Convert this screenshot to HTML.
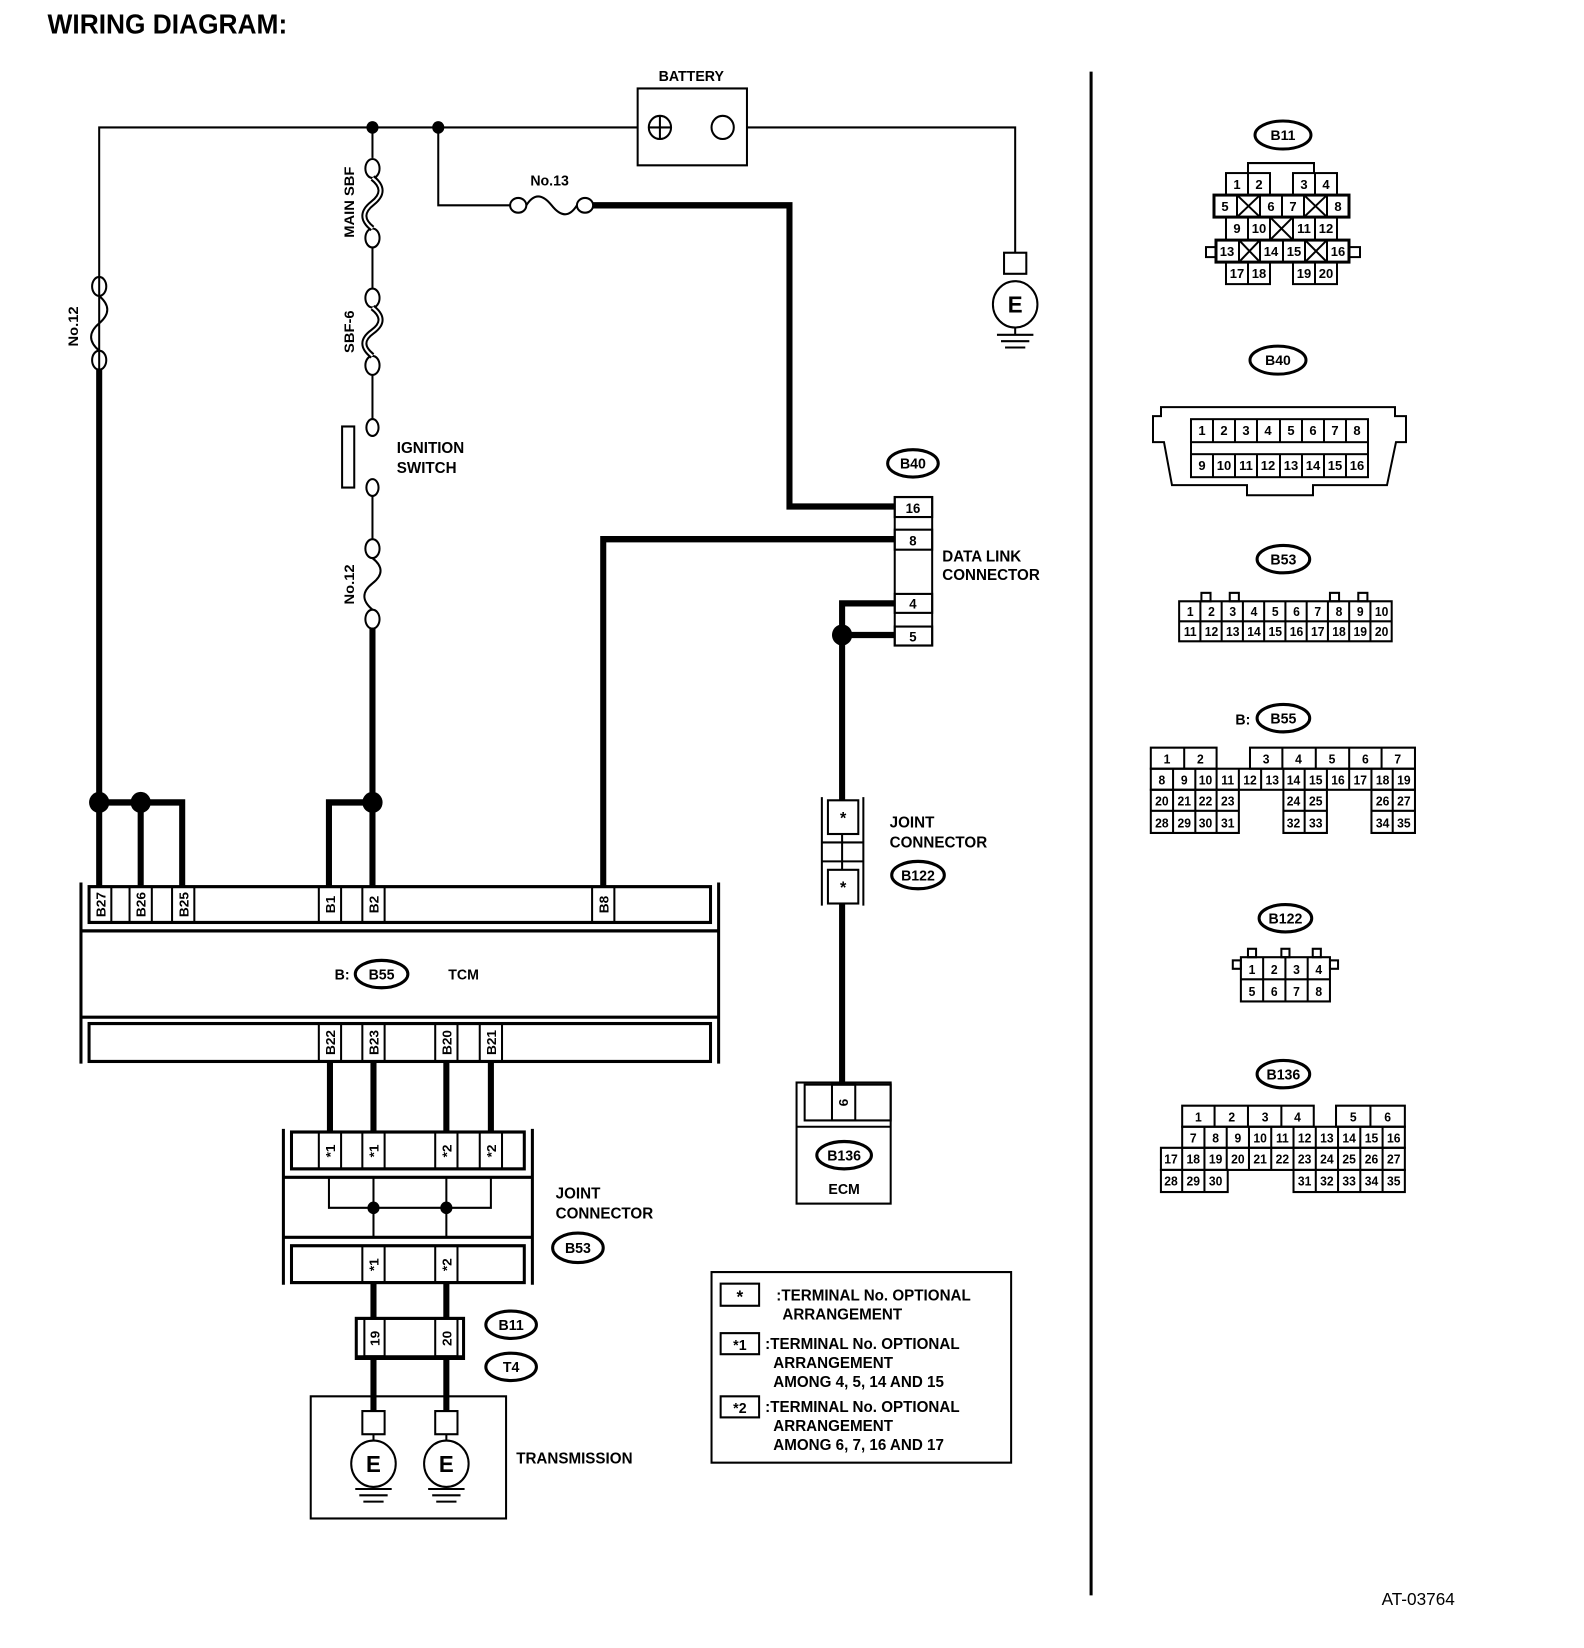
<!DOCTYPE html>
<html><head><meta charset="utf-8"><style>
html,body{margin:0;padding:0;background:#fff}
svg{display:block}
text{font-family:"Liberation Sans",Arial,sans-serif;font-weight:bold;fill:#000}
</style></head><body>
<svg width="1584" height="1648" viewBox="0 0 1565 1565" preserveAspectRatio="none" xmlns="http://www.w3.org/2000/svg">
<g fill="none" stroke="#000" stroke-width="2">
<polyline points="98,350 98,121 630,121"/>
<polyline points="738,121 1003,121 1003,240"/>
<rect x="630" y="84" width="108" height="73"/>
<circle cx="652" cy="121" r="11"/><line x1="641" y1="121" x2="663" y2="121"/><line x1="652" y1="110" x2="652" y2="132"/>
<circle cx="714" cy="121" r="11"/>
<rect x="992" y="240" width="22" height="20"/>
<circle cx="1003" cy="289" r="22"/>
<line x1="1003" y1="311" x2="1003" y2="318"/>
<line x1="985" y1="318" x2="1021" y2="318"/><line x1="989" y1="324" x2="1017" y2="324"/><line x1="993" y1="330" x2="1013" y2="330"/>
<ellipse cx="98" cy="272" rx="7" ry="9"/><ellipse cx="98" cy="342" rx="7" ry="9"/>
<path d="M98,281 Q114,294 98,307 Q82,320 98,333"/>
<line x1="368" y1="121" x2="368" y2="150"/>
<ellipse cx="368" cy="160" rx="7" ry="9"/><ellipse cx="368" cy="226" rx="7" ry="9"/>
<path d="M368,169 Q384,181 368,193 Q352,205 368,217" stroke-width="6"/>
<path d="M368,169 Q384,181 368,193 Q352,205 368,217" stroke="#fff" stroke-width="2"/>
<line x1="368" y1="235" x2="368" y2="274"/>
<ellipse cx="368" cy="283" rx="7" ry="9"/><ellipse cx="368" cy="347" rx="7" ry="9"/>
<path d="M368,292 Q384,304 368,315 Q352,326 368,338" stroke-width="6"/>
<path d="M368,292 Q384,304 368,315 Q352,326 368,338" stroke="#fff" stroke-width="2"/>
<line x1="368" y1="356" x2="368" y2="398"/>
<ellipse cx="368" cy="406" rx="6" ry="8"/>
<rect x="338" y="405" width="12" height="58"/>
<ellipse cx="368" cy="463" rx="6" ry="8"/>
<line x1="368" y1="471" x2="368" y2="512"/>
<ellipse cx="368" cy="521" rx="7" ry="9"/><ellipse cx="368" cy="588" rx="7" ry="9"/>
<path d="M368,530 Q384,542 368,554 Q352,566 368,579"/>
<polyline points="433,121 433,195 504,195"/>
<ellipse cx="512" cy="195" rx="8" ry="7"/><ellipse cx="578" cy="195" rx="8" ry="7"/>
<path d="M520,195 Q531,178 545,195 Q559,212 570,195"/>
<rect x="884" y="472" width="37" height="141"/>
<rect x="884" y="472" width="37" height="19"/>
<rect x="884" y="503" width="37" height="19"/>
<rect x="884" y="564" width="37" height="18"/>
<rect x="884" y="595" width="37" height="18"/>
<rect x="818" y="760" width="30" height="32"/>
<rect x="818" y="826" width="30" height="32"/>
<polyline points="812,757 812,860"/><polyline points="853,757 853,860"/>
<line x1="812" y1="800" x2="853" y2="800"/><line x1="812" y1="818" x2="853" y2="818"/>
<line x1="832" y1="792" x2="832" y2="826"/>
<rect x="787" y="1028" width="93" height="115"/>
<rect x="795" y="1030" width="85" height="34"/>
<rect x="822" y="1030" width="23" height="34"/>
<line x1="787" y1="1070" x2="880" y2="1070"/>
<line x1="80" y1="838" x2="80" y2="1010" stroke-width="3"/>
<line x1="710" y1="838" x2="710" y2="1010" stroke-width="3"/>
<rect x="88" y="842" width="614" height="34" stroke-width="3"/>
<line x1="80" y1="884" x2="710" y2="884" stroke-width="3"/>
<line x1="80" y1="966" x2="710" y2="966" stroke-width="3"/>
<rect x="88" y="972" width="614" height="36" stroke-width="3"/>
<rect x="88" y="842" width="22" height="34"/><rect x="128" y="842" width="22" height="34"/><rect x="170" y="842" width="22" height="34"/>
<rect x="315" y="842" width="22" height="34"/><rect x="358" y="842" width="22" height="34"/><rect x="585" y="842" width="22" height="34"/>
<rect x="315" y="972" width="22" height="36"/><rect x="358" y="972" width="22" height="36"/><rect x="430" y="972" width="22" height="36"/><rect x="474" y="972" width="22" height="36"/>
<line x1="280" y1="1072" x2="280" y2="1220" stroke-width="3"/>
<line x1="526" y1="1072" x2="526" y2="1220" stroke-width="3"/>
<rect x="288" y="1075" width="230" height="35" stroke-width="3"/>
<line x1="280" y1="1118" x2="526" y2="1118" stroke-width="3"/>
<line x1="280" y1="1175" x2="526" y2="1175" stroke-width="3"/>
<rect x="288" y="1183" width="230" height="35" stroke-width="3"/>
<rect x="315" y="1075" width="22" height="35"/><rect x="358" y="1075" width="22" height="35"/><rect x="430" y="1075" width="22" height="35"/><rect x="474" y="1075" width="22" height="35"/>
<rect x="358" y="1183" width="22" height="35"/><rect x="430" y="1183" width="22" height="35"/>
<polyline points="325,1118 325,1147 485,1147 485,1118"/>
<line x1="369" y1="1118" x2="369" y2="1175"/><line x1="441" y1="1118" x2="441" y2="1175"/>
<rect x="352" y="1252" width="106" height="38" stroke-width="3"/>
<rect x="360" y="1252" width="20" height="36"/><rect x="430" y="1252" width="22" height="36"/>
<line x1="352" y1="1288" x2="458" y2="1288"/>
<rect x="307" y="1326" width="193" height="116"/>
<rect x="358" y="1340" width="22" height="22"/><circle cx="369" cy="1390" r="22"/>
<line x1="369" y1="1362" x2="369" y2="1368"/>
<line x1="369" y1="1412" x2="369" y2="1414"/>
<line x1="351" y1="1414" x2="387" y2="1414"/><line x1="355" y1="1420" x2="383" y2="1420"/><line x1="359" y1="1426" x2="379" y2="1426"/>
<rect x="430" y="1340" width="22" height="22"/><circle cx="441" cy="1390" r="22"/>
<line x1="441" y1="1362" x2="441" y2="1368"/>
<line x1="423" y1="1414" x2="459" y2="1414"/><line x1="427" y1="1420" x2="455" y2="1420"/><line x1="431" y1="1426" x2="451" y2="1426"/>
<rect x="703" y="1208" width="296" height="181"/>
<rect x="712" y="1219" width="38" height="21"/>
<rect x="712" y="1266" width="38" height="20"/>
<rect x="712" y="1326" width="38" height="20"/>
<line x1="1078" y1="68" x2="1078" y2="1515" stroke-width="3"/>
<ellipse cx="902" cy="440" rx="25" ry="13" stroke-width="3"/>
<ellipse cx="907" cy="831" rx="26" ry="13" stroke-width="3"/>
<ellipse cx="834" cy="1097" rx="27" ry="13" stroke-width="3"/>
<ellipse cx="377" cy="925" rx="26" ry="13" stroke-width="3"/>
<ellipse cx="571" cy="1185" rx="25" ry="14" stroke-width="3"/>
<ellipse cx="505" cy="1258" rx="25" ry="13" stroke-width="3"/>
<ellipse cx="505" cy="1298" rx="25" ry="13" stroke-width="3"/>
</g>
<g fill="none" stroke="#000" stroke-width="6">
<line x1="98" y1="350" x2="98" y2="842"/>
<polyline points="98,762 180,762 180,842"/>
<line x1="139" y1="762" x2="139" y2="842"/>
<line x1="368" y1="596" x2="368" y2="842"/>
<polyline points="368,762 325,762 325,842"/>
<polyline points="586,195 780,195 780,481 884,481"/>
<polyline points="884,512 596,512 596,842"/>
<polyline points="884,573 832,573 832,760"/>
<line x1="832" y1="603" x2="884" y2="603"/>
<line x1="832" y1="858" x2="832" y2="1030"/>
<line x1="326" y1="1008" x2="326" y2="1075"/><line x1="369" y1="1008" x2="369" y2="1075"/>
<line x1="441" y1="1008" x2="441" y2="1075"/><line x1="485" y1="1008" x2="485" y2="1075"/>
<line x1="369" y1="1218" x2="369" y2="1252"/><line x1="441" y1="1218" x2="441" y2="1252"/>
<line x1="369" y1="1290" x2="369" y2="1340"/><line x1="441" y1="1290" x2="441" y2="1340"/>
</g>
<g fill="#000">
<circle cx="368" cy="121" r="6"/><circle cx="433" cy="121" r="6"/>
<circle cx="98" cy="762" r="10"/><circle cx="139" cy="762" r="10"/><circle cx="368" cy="762" r="10"/>
<circle cx="832" cy="603" r="10"/>
<circle cx="369" cy="1147" r="6"/><circle cx="441" cy="1147" r="6"/>
</g>
<text x="47" y="32" font-size="26">WIRING DIAGRAM:</text>
<text x="683" y="77" font-size="14" text-anchor="middle">BATTERY</text>
<text x="1003" y="297" font-size="22" text-anchor="middle">E</text>
<text x="369" y="1398" font-size="22" text-anchor="middle">E</text>
<text x="441" y="1398" font-size="22" text-anchor="middle">E</text>
<text x="543" y="176" font-size="14" text-anchor="middle">No.13</text>
<text transform="translate(77,310) rotate(-90)" font-size="14" text-anchor="middle">No.12</text>
<text transform="translate(350,192) rotate(-90)" font-size="14" text-anchor="middle">MAIN SBF</text>
<text transform="translate(350,315) rotate(-90)" font-size="14" text-anchor="middle">SBF-6</text>
<text transform="translate(350,555) rotate(-90)" font-size="14" text-anchor="middle">No.12</text>
<text x="392" y="430" font-size="15">IGNITION</text>
<text x="392" y="449" font-size="15">SWITCH</text>
<text x="902" y="445" font-size="14" text-anchor="middle">B40</text>
<text x="902" y="487" font-size="13" text-anchor="middle">16</text>
<text x="902" y="518" font-size="13" text-anchor="middle">8</text>
<text x="902" y="578" font-size="13" text-anchor="middle">4</text>
<text x="902" y="609" font-size="13" text-anchor="middle">5</text>
<text x="931" y="533" font-size="15">DATA LINK</text>
<text x="931" y="551" font-size="15">CONNECTOR</text>
<text x="879" y="786" font-size="15">JOINT</text>
<text x="879" y="805" font-size="15">CONNECTOR</text>
<text x="907" y="836" font-size="14" text-anchor="middle">B122</text>
<text x="833" y="782" font-size="16" text-anchor="middle">*</text>
<text x="833" y="848" font-size="16" text-anchor="middle">*</text>
<text transform="translate(838,1047) rotate(-90)" font-size="13" text-anchor="middle">6</text>
<text x="834" y="1102" font-size="14" text-anchor="middle">B136</text>
<text x="834" y="1134" font-size="14" text-anchor="middle">ECM</text>
<g font-size="13" text-anchor="middle">
<text transform="translate(104,859) rotate(-90)">B27</text>
<text transform="translate(144,859) rotate(-90)">B26</text>
<text transform="translate(186,859) rotate(-90)">B25</text>
<text transform="translate(331,859) rotate(-90)">B1</text>
<text transform="translate(374,859) rotate(-90)">B2</text>
<text transform="translate(601,859) rotate(-90)">B8</text>
<text transform="translate(331,990) rotate(-90)">B22</text>
<text transform="translate(374,990) rotate(-90)">B23</text>
<text transform="translate(446,990) rotate(-90)">B20</text>
<text transform="translate(490,990) rotate(-90)">B21</text>
<text transform="translate(331,1093) rotate(-90)">*1</text>
<text transform="translate(374,1093) rotate(-90)">*1</text>
<text transform="translate(446,1093) rotate(-90)">*2</text>
<text transform="translate(490,1093) rotate(-90)">*2</text>
<text transform="translate(374,1201) rotate(-90)">*1</text>
<text transform="translate(446,1201) rotate(-90)">*2</text>
<text transform="translate(375,1271) rotate(-90)">19</text>
<text transform="translate(446,1271) rotate(-90)">20</text>
</g>
<text x="338" y="930" font-size="14" text-anchor="middle">B:</text>
<text x="377" y="930" font-size="14" text-anchor="middle">B55</text>
<text x="458" y="930" font-size="14" text-anchor="middle">TCM</text>
<text x="549" y="1138" font-size="15">JOINT</text>
<text x="549" y="1157" font-size="15">CONNECTOR</text>
<text x="571" y="1190" font-size="14" text-anchor="middle">B53</text>
<text x="505" y="1263" font-size="14" text-anchor="middle">B11</text>
<text x="505" y="1303" font-size="14" text-anchor="middle">T4</text>
<text x="510" y="1390" font-size="15">TRANSMISSION</text>
<g font-size="15">
<text x="731" y="1237" text-anchor="middle" font-size="17">*</text>
<text x="767" y="1235">:TERMINAL No. OPTIONAL</text>
<text x="773" y="1253">ARRANGEMENT</text>
<text x="731" y="1282" text-anchor="middle" font-size="14">*1</text>
<text x="756" y="1281">:TERMINAL No. OPTIONAL</text>
<text x="764" y="1299">ARRANGEMENT</text>
<text x="764" y="1317">AMONG 4, 5, 14 AND 15</text>
<text x="731" y="1342" text-anchor="middle" font-size="14">*2</text>
<text x="756" y="1341">:TERMINAL No. OPTIONAL</text>
<text x="764" y="1359">ARRANGEMENT</text>
<text x="764" y="1377">AMONG 6, 7, 16  AND 17</text>
</g>
<text x="1365" y="1524" font-size="17" style="font-weight:normal">AT-03764</text>

<g transform="scale(0.988,0.950)" fill="none" stroke="#000" stroke-width="2">
<ellipse cx="1283" cy="135" rx="28" ry="14" stroke-width="3"/>
<polyline points="1248,173 1248,163 1314,163 1314,173"/>
<rect x="1226" y="173" width="44" height="22"/><line x1="1248" y1="173" x2="1248" y2="195"/>
<rect x="1293" y="173" width="44" height="22"/><line x1="1315" y1="173" x2="1315" y2="195"/>
<rect x="1214" y="195" width="135" height="22" stroke-width="3"/>
<line x1="1237" y1="195" x2="1237" y2="217"/><line x1="1260" y1="195" x2="1260" y2="217"/><line x1="1282" y1="195" x2="1282" y2="217"/><line x1="1304" y1="195" x2="1304" y2="217"/><line x1="1327" y1="195" x2="1327" y2="217"/>
<path d="M1237,195 L1260,217 M1260,195 L1237,217 M1304,195 L1327,217 M1327,195 L1304,217"/>
<rect x="1226" y="217" width="111" height="23"/>
<line x1="1248" y1="217" x2="1248" y2="240"/><line x1="1270" y1="217" x2="1270" y2="240"/><line x1="1293" y1="217" x2="1293" y2="240"/><line x1="1315" y1="217" x2="1315" y2="240"/>
<path d="M1270,217 L1293,240 M1293,217 L1270,240"/>
<rect x="1206" y="247" width="10" height="10"/><rect x="1349" y="247" width="11" height="10"/>
<rect x="1216" y="240" width="133" height="22" stroke-width="3"/>
<line x1="1239" y1="240" x2="1239" y2="262"/><line x1="1260" y1="240" x2="1260" y2="262"/><line x1="1283" y1="240" x2="1283" y2="262"/><line x1="1305" y1="240" x2="1305" y2="262"/><line x1="1327" y1="240" x2="1327" y2="262"/>
<path d="M1239,240 L1260,262 M1260,240 L1239,262 M1305,240 L1327,262 M1327,240 L1305,262"/>
<rect x="1226" y="262" width="44" height="22"/><line x1="1248" y1="262" x2="1248" y2="284"/>
<rect x="1293" y="262" width="44" height="22"/><line x1="1315" y1="262" x2="1315" y2="284"/>
<ellipse cx="1278" cy="360" rx="28" ry="14" stroke-width="3"/>
<polygon points="1161,407 1395,407 1395,416 1406,416 1406,442 1396,442 1387,485 1313,485 1313,495 1247,495 1247,485 1172,485 1164,442 1153,442 1153,416 1161,416"/>
<rect x="1191" y="419" width="177" height="23"/>
<rect x="1191" y="454" width="177" height="23"/>
<line x1="1191" y1="442" x2="1191" y2="454"/><line x1="1368" y1="442" x2="1368" y2="454"/>
<path d="M1213,419V442M1235,419V442M1257,419V442M1280,419V442M1302,419V442M1324,419V442M1346,419V442M1213,454V477M1235,454V477M1257,454V477M1280,454V477M1302,454V477M1324,454V477M1346,454V477"/>
</g>
<g transform="scale(0.988,0.950)" font-size="13" text-anchor="middle">
<text x="1283" y="140" font-size="14">B11</text>
<text x="1237" y="189">1</text><text x="1259" y="189">2</text><text x="1304" y="189">3</text><text x="1326" y="189">4</text>
<text x="1225" y="211">5</text><text x="1271" y="211">6</text><text x="1293" y="211">7</text><text x="1338" y="211">8</text>
<text x="1237" y="233">9</text><text x="1259" y="233">10</text><text x="1304" y="233">11</text><text x="1326" y="233">12</text>
<text x="1227" y="256">13</text><text x="1271" y="256">14</text><text x="1294" y="256">15</text><text x="1338" y="256">16</text>
<text x="1237" y="278">17</text><text x="1259" y="278">18</text><text x="1304" y="278">19</text><text x="1326" y="278">20</text>
<text x="1278" y="365" font-size="14">B40</text>
<text x="1202" y="435">1</text><text x="1224" y="435">2</text><text x="1246" y="435">3</text><text x="1268" y="435">4</text><text x="1291" y="435">5</text><text x="1313" y="435">6</text><text x="1335" y="435">7</text><text x="1357" y="435">8</text>
<text x="1202" y="470">9</text><text x="1224" y="470">10</text><text x="1246" y="470">11</text><text x="1268" y="470">12</text><text x="1291" y="470">13</text><text x="1313" y="470">14</text><text x="1335" y="470">15</text><text x="1357" y="470">16</text>
</g>

<g fill="none" stroke="#000" stroke-width="2">
<ellipse cx="1268" cy="531" rx="26" ry="13" stroke-width="3"/>
<rect x="1165" y="571" width="210" height="38"/>
<line x1="1165" y1="590" x2="1375" y2="590"/>
<path d="M1186,571V609M1207,571V609M1228,571V609M1249,571V609M1270,571V609M1291,571V609M1312,571V609M1333,571V609M1354,571V609"/>
<rect x="1187" y="563" width="9" height="8"/><rect x="1215" y="563" width="9" height="8"/><rect x="1314" y="563" width="9" height="8"/><rect x="1342" y="563" width="9" height="8"/>
<ellipse cx="1268" cy="682" rx="26" ry="13" stroke-width="3"/>
<rect x="1137" y="710" width="65" height="20"/><line x1="1170" y1="710" x2="1170" y2="730"/>
<rect x="1235" y="710" width="163" height="20"/>
<path d="M1267,710V730M1300,710V730M1333,710V730M1365,710V730"/>
<rect x="1137" y="730" width="261" height="20"/>
<path d="M1159,730V750M1181,730V750M1202,730V750M1224,730V750M1246,730V750M1268,730V750M1289,730V750M1311,730V750M1333,730V750M1355,730V750M1376,730V750"/>
<rect x="1137" y="750" width="87" height="41"/><line x1="1137" y1="770" x2="1224" y2="770"/>
<path d="M1159,750V791M1181,750V791M1202,750V791"/>
<rect x="1268" y="750" width="43" height="41"/><line x1="1268" y1="770" x2="1311" y2="770"/><line x1="1289" y1="750" x2="1289" y2="791"/>
<rect x="1355" y="750" width="43" height="41"/><line x1="1355" y1="770" x2="1398" y2="770"/><line x1="1376" y1="750" x2="1376" y2="791"/>
<ellipse cx="1270" cy="872" rx="26" ry="13" stroke-width="3"/>
<rect x="1226" y="909" width="88" height="42"/>
<line x1="1226" y1="930" x2="1314" y2="930"/>
<path d="M1248,909V951M1270,909V951M1292,909V951"/>
<rect x="1218" y="912" width="8" height="8"/><rect x="1314" y="912" width="8" height="8"/>
<rect x="1233" y="901" width="8" height="8"/><rect x="1266" y="901" width="8" height="8"/><rect x="1297" y="901" width="8" height="8"/>
<ellipse cx="1268" cy="1020" rx="26" ry="13" stroke-width="3"/>
<rect x="1168" y="1050" width="130" height="20"/>
<path d="M1200,1050V1070M1233,1050V1070M1266,1050V1070"/>
<rect x="1320" y="1050" width="68" height="20"/><line x1="1354" y1="1050" x2="1354" y2="1070"/>
<rect x="1168" y="1070" width="220" height="20"/>
<path d="M1190,1070V1090M1212,1070V1090M1234,1070V1090M1256,1070V1090M1278,1070V1090M1300,1070V1090M1322,1070V1090M1344,1070V1090M1366,1070V1090"/>
<rect x="1147" y="1090" width="241" height="21"/>
<path d="M1168,1090V1111M1190,1090V1111M1212,1090V1111M1234,1090V1111M1256,1090V1111M1278,1090V1111M1300,1090V1111M1322,1090V1111M1344,1090V1111M1366,1090V1111"/>
<rect x="1147" y="1111" width="66" height="21"/><path d="M1168,1111V1132M1190,1111V1132"/>
<rect x="1278" y="1111" width="110" height="21"/><path d="M1300,1111V1132M1322,1111V1132M1344,1111V1132M1366,1111V1132"/>
</g>
<g font-size="12" text-anchor="middle">
<text x="1268" y="536" font-size="14">B53</text>
<text x="1176" y="585">1</text><text x="1197" y="585">2</text><text x="1218" y="585">3</text><text x="1239" y="585">4</text><text x="1260" y="585">5</text><text x="1281" y="585">6</text><text x="1302" y="585">7</text><text x="1323" y="585">8</text><text x="1344" y="585">9</text><text x="1365" y="585">10</text>
<text x="1176" y="604">11</text><text x="1197" y="604">12</text><text x="1218" y="604">13</text><text x="1239" y="604">14</text><text x="1260" y="604">15</text><text x="1281" y="604">16</text><text x="1302" y="604">17</text><text x="1323" y="604">18</text><text x="1344" y="604">19</text><text x="1365" y="604">20</text>
<text x="1228" y="688" font-size="14">B:</text><text x="1268" y="687" font-size="14">B55</text>
<text x="1153" y="725">1</text><text x="1186" y="725">2</text><text x="1251" y="725">3</text><text x="1283" y="725">4</text><text x="1316" y="725">5</text><text x="1349" y="725">6</text><text x="1381" y="725">7</text>
<text x="1148" y="745">8</text><text x="1170" y="745">9</text><text x="1191" y="745">10</text><text x="1213" y="745">11</text><text x="1235" y="745">12</text><text x="1257" y="745">13</text><text x="1278" y="745">14</text><text x="1300" y="745">15</text><text x="1322" y="745">16</text><text x="1344" y="745">17</text><text x="1366" y="745">18</text><text x="1387" y="745">19</text>
<text x="1148" y="765">20</text><text x="1170" y="765">21</text><text x="1191" y="765">22</text><text x="1213" y="765">23</text><text x="1278" y="765">24</text><text x="1300" y="765">25</text><text x="1366" y="765">26</text><text x="1387" y="765">27</text>
<text x="1148" y="786">28</text><text x="1170" y="786">29</text><text x="1191" y="786">30</text><text x="1213" y="786">31</text><text x="1278" y="786">32</text><text x="1300" y="786">33</text><text x="1366" y="786">34</text><text x="1387" y="786">35</text>
<text x="1270" y="877" font-size="14">B122</text>
<text x="1237" y="925">1</text><text x="1259" y="925">2</text><text x="1281" y="925">3</text><text x="1303" y="925">4</text>
<text x="1237" y="946">5</text><text x="1259" y="946">6</text><text x="1281" y="946">7</text><text x="1303" y="946">8</text>
<text x="1268" y="1025" font-size="14">B136</text>
<text x="1184" y="1065">1</text><text x="1217" y="1065">2</text><text x="1250" y="1065">3</text><text x="1282" y="1065">4</text><text x="1337" y="1065">5</text><text x="1371" y="1065">6</text>
<text x="1179" y="1085">7</text><text x="1201" y="1085">8</text><text x="1223" y="1085">9</text><text x="1245" y="1085">10</text><text x="1267" y="1085">11</text><text x="1289" y="1085">12</text><text x="1311" y="1085">13</text><text x="1333" y="1085">14</text><text x="1355" y="1085">15</text><text x="1377" y="1085">16</text>
<text x="1157" y="1105">17</text><text x="1179" y="1105">18</text><text x="1201" y="1105">19</text><text x="1223" y="1105">20</text><text x="1245" y="1105">21</text><text x="1267" y="1105">22</text><text x="1289" y="1105">23</text><text x="1311" y="1105">24</text><text x="1333" y="1105">25</text><text x="1355" y="1105">26</text><text x="1377" y="1105">27</text>
<text x="1157" y="1126">28</text><text x="1179" y="1126">29</text><text x="1201" y="1126">30</text><text x="1289" y="1126">31</text><text x="1311" y="1126">32</text><text x="1333" y="1126">33</text><text x="1355" y="1126">34</text><text x="1377" y="1126">35</text>
</g>
</svg>
</body></html>
